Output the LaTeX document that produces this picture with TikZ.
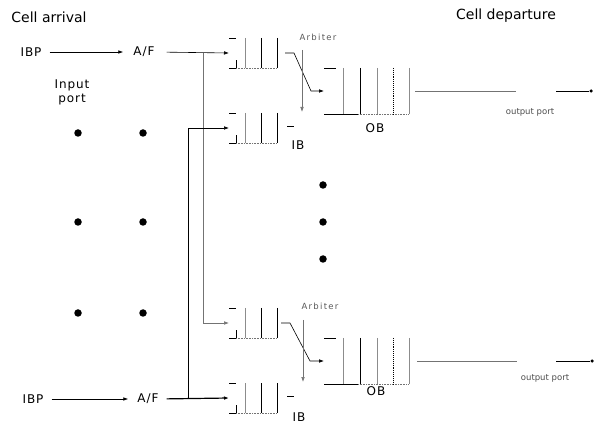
\documentclass[tikz,border=0pt]{standalone}
\usepackage{fontspec}
\setmainfont{DejaVu Sans}
\usetikzlibrary{arrows.meta}
\tikzset{
  ln/.style={line width=0.6pt,black},
  faint/.style={line width=0.6pt,black!55},
  arr/.style={-{Latex[length=5pt,width=3.6pt]}},
  bar/.style={line width=0.9pt,black},
  gbar/.style={line width=0.9pt,black!45},
  blob/.style={circle,fill=black,inner sep=0pt,minimum size=7.5pt},
  enddot/.style={circle,fill=black,inner sep=0pt,minimum size=3.5pt},
  lbl/.style={inner sep=0pt,font=\fontsize{12}{14}\selectfont\addfontfeature{LetterSpace=8}},
  big/.style={inner sep=0pt,font=\fontsize{14}{16}\selectfont},
  tiny/.style={inner sep=0pt,font=\fontsize{8.5}{10}\selectfont\addfontfeature{LetterSpace=15},black!65},
  small/.style={inner sep=0pt,font=\fontsize{8.5}{10}\selectfont,black!70},
  inbuf/.pic={
    \draw[ln] (0,-15) -- (7,-15);
    \draw[ln] (0,15) -- (7,15) -- (7,7);
    \draw[gbar] (16,-15) -- (16,15);
    \draw[bar] (32,-15) -- (32,15);
    \draw[ln] (48,-15) -- (48,15);
    \draw[faint,densely dotted] (7,15) -- (48,15);
  },
  outbuf/.pic={
    \draw[ln] (0,-23) -- (12,-23);
    \draw[ln] (0,23) -- (34,23);
    \draw[faint,densely dotted] (34,23) -- (85,23);
    \draw[gbar] (19,-23) -- (19,23);
    \draw[bar] (36,-23) -- (36,23);
    \draw[gbar] (53,-23) -- (53,23);
    \draw[bar,densely dotted] (69,-23) -- (69,23);
    \draw[gbar] (85,-23) -- (85,23);
  }
}
\begin{document}
\begin{tikzpicture}[x=1pt,y=-1pt]
\useasboundingbox (0,0) rectangle (594,443);

% titles
\node[big] (arrival) at (49,17) {Cell arrival};
\node[big] (departure) at (506,16) {Cell departure};
\node[lbl,align=center] (inport) at (72,92) {Input\\port};

% left port dots
\foreach \x/\n in {78/a,143/b}{
  \foreach \y/\m in {133/1,222/2,313/3}{
    \node[blob] (d\n\m) at (\x,\y) {};
  }
}
% middle dots
\node[blob] (m1) at (323,185) {};
\node[blob] (m2) at (323,222) {};
\node[blob] (m3) at (323,259) {};

% input side
\node[lbl] (ibp1) at (31,52) {IBP};
\node[lbl] (af1) at (144,52) {A/F};
\node[lbl] (ibp2) at (33,399) {IBP};
\node[lbl] (af2) at (148,399) {A/F};

% buffers
\pic at (229,53) {inbuf};
\pic at (229,128) {inbuf};
\pic at (229,323) {inbuf};
\pic at (229,398) {inbuf};
\pic at (324,91) {outbuf};
\pic at (324,361) {outbuf};

\coordinate (in1) at (229,53);
\coordinate (ib1) at (229,128);
\coordinate (in2) at (229,323);
\coordinate (ib2) at (229,398);
\coordinate (ob1) at (324,91);
\coordinate (ob2) at (324,361);
\coordinate (j1) at (203,53);
\coordinate (j2) at (188,398);

% IB dashes and labels
\draw[ln] (287,126) -- (294,126);
\draw[ln] (287,396) -- (294,396);
\node[lbl] (iblab1) at (298,145) {IB};
\node[lbl] (iblab2) at (299,417) {IB};
\node[lbl] (oblab1) at (375,128) {OB};
\node[lbl] (oblab2) at (376,391) {OB};
\node[tiny] (arb1) at (318,37) {Arbiter};
\node[tiny] (arb2) at (320,306) {Arbiter};

% input connectors
\draw[ln,arr,shorten <=8pt,shorten >=10pt] (ibp1.east) -- (af1.west);
\draw[ln,arr,shorten <=8pt,shorten >=9pt] (ibp2.east) -- (af2.west);
\draw[ln,arr,shorten <=12pt] (af1.east) -- (in1);
\draw[line width=1.2pt,arr,shorten <=8pt] (af2.east) -- (ib2);
\draw[faint,arr] (j1) |- (in2);
\draw[ln,arr] (j2) |- (ib1);

% arbiters
\draw[ln,arr] (285,53) -- (294,53) -- (311,91) -- (ob1);
\draw[faint,arr] (302,50) -- (302,112);
\draw[ln,arr] (281,323) -- (290,323) -- (310,361) -- (ob2);
\draw[faint,arr] (303,320) -- (303,382);

% output lines
\node[enddot] (op1) at (591,91) {};
\node[enddot] (op2) at (592,361) {};
\coordinate (o1a) at (415,91);
\coordinate (o1b) at (516,91);
\coordinate (o1c) at (556,91);
\coordinate (o2a) at (417,361);
\coordinate (o2b) at (517,361);
\coordinate (o2c) at (556,361);
\draw[faint] (o1a) -- (o1b);
\draw[ln] (o1c) -- (op1);
\draw[faint] (o2a) -- (o2b);
\draw[ln] (o2c) -- (op2);
\node[small] (opl1) at (530,112) {output port};
\node[small] (opl2) at (545,378) {output port};
\end{tikzpicture}
\end{document}
